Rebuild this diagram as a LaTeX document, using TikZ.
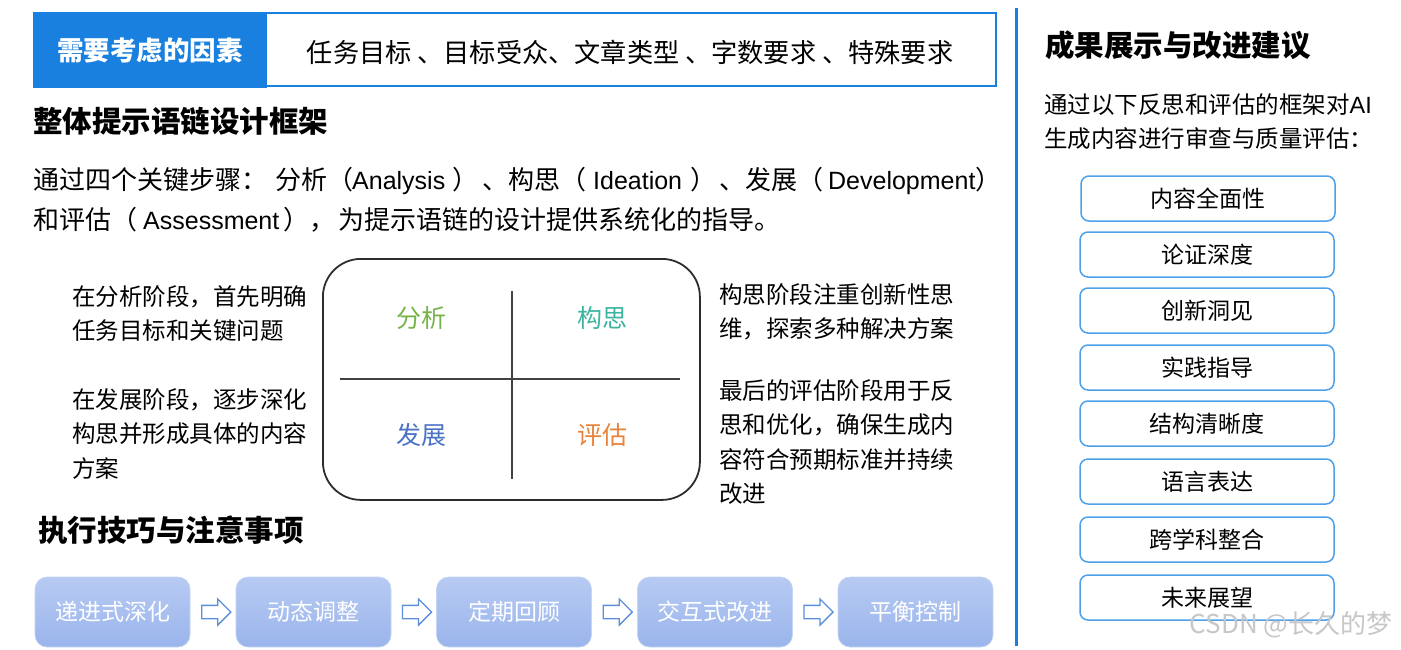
\documentclass[tikz,border=0pt]{standalone}
\usepackage{fontspec}
\setmainfont{Noto Sans CJK SC}
\newfontfamily\lat{Liberation Sans}
\usetikzlibrary{shapes.arrows,calc}
\definecolor{topblue}{RGB}{26,128,224}
\definecolor{flowtop}{RGB}{183,202,242}
\definecolor{flowbot}{RGB}{154,181,236}
\definecolor{arrowblue}{RGB}{91,142,219}
\definecolor{boxblue}{RGB}{77,160,234}
\definecolor{frame}{RGB}{45,45,45}
\definecolor{cgreen}{RGB}{118,180,72}
\definecolor{cteal}{RGB}{60,180,160}
\definecolor{cblue}{RGB}{74,114,196}
\definecolor{corange}{RGB}{232,131,58}
\newcommand{\fs}[2]{\fontsize{#1}{#2}\selectfont}
\newcommand{\seg}[2]{\makebox[#1pt][l]{#2}}
\newcommand{\lw}[1]{{\lat\fontsize{25}{30}\selectfont #1}}
\tikzset{
  every node/.style={inner sep=0pt, text=black},
  heading/.style={anchor=west, font=\fs{29.5}{34}\bfseries},
  para/.style={anchor=west, font=\fs{26}{30}},
  sidetext/.style={anchor=north west, align=left, font=\fs{23.5}{34.5}},
  quadlabel/.style={font=\fs{25}{30}},
  qline/.style={draw=frame!90, line width=2.2pt},
  flowbox/.style={rounded corners=12pt, minimum width=155pt, minimum height=70pt,
    top color=flowtop, bottom color=flowbot, draw=flowtop!80!white, line width=0.6pt,
    text=white, font=\fs{23}{28}},
  flowarrow/.style={single arrow, draw=arrowblue, fill=white, line width=1.3pt,
    minimum height=29pt, minimum width=26pt, inner sep=6pt,
    single arrow head extend=6.5pt, single arrow head indent=0pt},
  evalbox/.style={draw=boxblue, line width=1.5pt, rounded corners=8pt, fill=white,
    minimum width=254pt, minimum height=45pt, font=\fs{23}{28}},
}
\begin{document}
\begin{tikzpicture}[x=1pt,y=-1pt]
\useasboundingbox[fill=white] (0,0) rectangle (1401,649);

% ---- top factor bar
\node[draw=topblue, line width=2pt, minimum width=962pt, minimum height=73pt, anchor=north west] (factbox) at (33,12) {};
\node[fill=topblue, minimum width=234pt, minimum height=76pt, anchor=north west,
      text=white, font=\fs{26.5}{30}\bfseries] (factlabel) at (33,12) {需要考虑的因素};
\node[font=\fs{26.2}{30}] (facts) at (630,52) {任务目标 、目标受众、文章类型 、字数要求 、特殊要求};

% ---- framework heading and paragraph
\node[heading] (h1) at (33,121) {整体提示语链设计框架};
\node[para] (p1) at (33,181) {\seg{242}{通过四个关键步骤：}\seg{77}{分析（}\seg{100}{\lw{Analysis}}\seg{30}{）}\seg{26}{、}\seg{85}{构思（}\seg{97}{\lw{Ideation}}\seg{29}{）}\seg{26}{、}\seg{83}{发展（}\seg{147}{\lw{Development}}）};
\node[para] (p2) at (33,220) {\seg{110}{和评估（}\seg{140}{\lw{Assessment}}\seg{55}{），}为提示语链的设计提供系统化的指导。};

% ---- quadrant diagram
\node[draw=frame, line width=1.8pt, rounded corners=38pt, minimum width=377pt, minimum height=241pt, anchor=north west] (quad) at (322,258) {};
\coordinate (vtop) at (512,291);
\coordinate (vbot) at (512,479);
\coordinate (hleft) at (340,379);
\coordinate (hright) at (680,379);
\draw[qline] (vtop) -- (vbot);
\draw[qline] (hleft) -- (hright);
\node[quadlabel, text=cgreen] (qa) at (421,318) {分析};
\node[quadlabel, text=cteal] (qb) at (602,318) {构思};
\node[quadlabel, text=cblue] (qc) at (421,435) {发展};
\node[quadlabel, text=corange] (qd) at (602,435) {评估};

% ---- side explanations
\node[sidetext] (la) at (72,285) {在分析阶段，首先明确\\任务目标和关键问题};
\node[sidetext] (lc) at (72,388) {在发展阶段，逐步深化\\构思并形成具体的内容\\方案};
\node[sidetext] (rb) at (719,283) {构思阶段注重创新性思\\维，探索多种解决方案};
\node[sidetext] (rd) at (719,379) {最后的评估阶段用于反\\思和优化，确保生成内\\容符合预期标准并持续\\改进};

% ---- execution tips
\node[heading] (h2) at (38,530) {执行技巧与注意事项};
\node[flowbox] (f1) at (112.5,612) {递进式深化};
\node[flowbox] (f2) at (313.5,612) {动态调整};
\node[flowbox] (f3) at (514,612) {定期回顾};
\node[flowbox] (f4) at (715,612) {交互式改进};
\node[flowbox] (f5) at (915.5,612) {平衡控制};
\node[flowarrow] (a1) at ($(f1.east)!0.5!(f2.west)$) {};
\node[flowarrow] (a2) at ($(f2.east)!0.5!(f3.west)$) {};
\node[flowarrow] (a3) at ($(f3.east)!0.5!(f4.west)$) {};
\node[flowarrow] (a4) at ($(f4.east)!0.5!(f5.west)$) {};

% ---- divider
\coordinate (dtop) at (1016,8);
\coordinate (dbot) at (1016,646);
\draw[topblue, line width=3pt] (dtop) -- (dbot);

% ---- right column
\node[heading] (h3) at (1045,45) {成果展示与改进建议};
\node[sidetext, font=\fs{23.5}{34}] (rt) at (1044,93) {通过以下反思和评估的框架对{\lat AI}\\生成内容进行审查与质量评估：};
\node[evalbox] (e1) at (1208,198.5) {内容全面性};
\node[evalbox] (e2) at (1207,254.5) {论证深度};
\node[evalbox] (e3) at (1207,310.5) {创新洞见};
\node[evalbox] (e4) at (1207,367.5) {实践指导};
\node[evalbox] (e5) at (1207,423.5) {结构清晰度};
\node[evalbox] (e6) at (1207,481.5) {语言表达};
\node[evalbox] (e7) at (1207,539.5) {跨学科整合};
\node[evalbox] (e8) at (1207,597.5) {未来展望};

% ---- watermark
\node[text=black!22, font=\fs{26}{28}] (wm) at (1291,625) {CSDN @长久的梦};
\end{tikzpicture}
\end{document}
